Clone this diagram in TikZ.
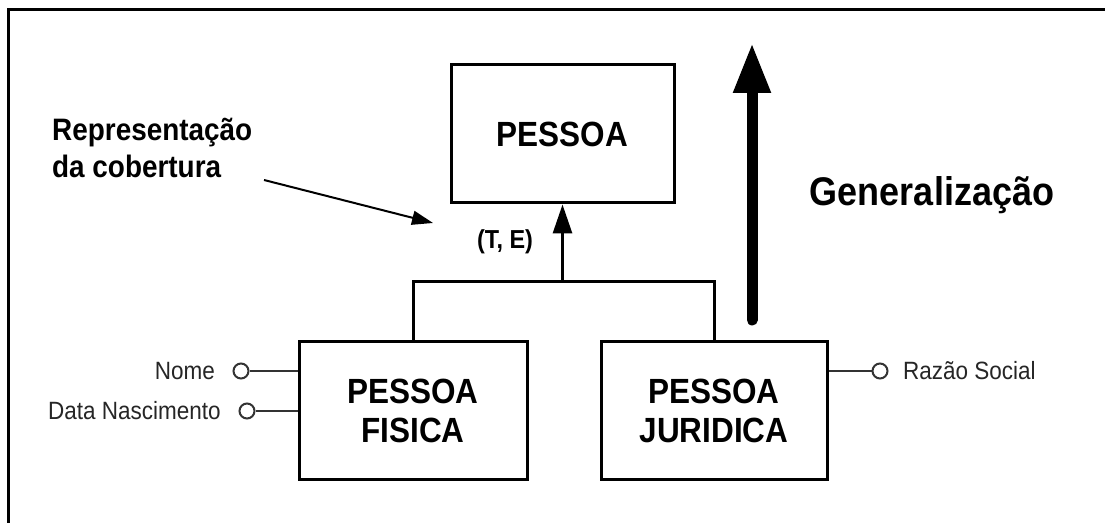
\documentclass[tikz,border=0pt]{standalone}
\usepackage{fontspec}
\setmainfont[FakeStretch=0.9]{Liberation Sans}
\usetikzlibrary{arrows.meta}
\begin{document}
\begin{tikzpicture}[x=1bp,y=-1bp,
  entity/.style={draw, line width=3bp, fill=white, align=center, inner sep=0,
    font=\fontsize{35bp}{39bp}\selectfont\bfseries},
  conn/.style={line width=3bp},
  uparrow/.style={line width=3bp, -{Triangle[length=29bp,width=19bp]}},
  attrcircle/.style={circle, draw=black!80, line width=2bp, fill=white,
    minimum size=15bp, inner sep=0},
  attrline/.style={line width=2.5bp, draw=black!80},
  attrtext/.style={inner sep=0, text=black!85, font=\fontsize{25bp}{27bp}\selectfont},
  note/.style={inner sep=0, font=\fontsize{31bp}{37bp}\selectfont\bfseries, align=left},
  pointer/.style={line width=2bp, -{Triangle[length=21bp,width=14bp]}}
]
\useasboundingbox (0,0) rectangle (1105,523);
\fill[white] (0,0) rectangle (1105,523);

% frame
\draw[line width=3bp] (8,523) -- (8,10) -- (1105,10);

% entities
\node[entity, minimum width=223bp, minimum height=138bp] (pessoa) at (562.5,134) {PESSOA};
\node[entity, minimum width=228bp, minimum height=137bp] (fisica) at (413,410.5) {PESSOA\\FISICA};
\node[entity, minimum width=226bp, minimum height=137bp] (juridica) at (714,410.5) {PESSOA\\JURIDICA};

% specialisation link
\coordinate (bar) at (562.5,282);
\draw[conn] (fisica.north) |- (bar) -| (juridica.north);
\draw[uparrow] (bar) -- (pessoa.south);
\node[inner sep=0, font=\fontsize{26bp}{28bp}\selectfont\bfseries] (te) at (505,242) {(T, E)};

% attributes of PESSOA FISICA
\node[attrcircle] (c1) at (241,371) {};
\node[attrtext, anchor=east] (nome) at (215,371) {Nome};
\draw[attrline] (c1) -- (fisica.west |- c1);
\node[attrcircle] (c2) at (247,411) {};
\node[attrtext, anchor=east] (nasc) at (221,411) {Data Nascimento};
\draw[attrline] (c2) -- (fisica.west |- c2);

% attribute of PESSOA JURIDICA
\node[attrcircle] (c3) at (880,371) {};
\node[attrtext, anchor=west] (razao) at (903,371) {Razão Social};
\draw[attrline] (juridica.east |- c3) -- (c3);

% coverage note
\node[note, anchor=west] (rep) at (52,148) {Representação\\da cobertura};
\coordinate (reptail) at (264,180);
\coordinate (reptip) at (433,223);
\draw[pointer] (reptail) -- (reptip);

% generalisation arrow
\coordinate (gbot) at (752,320);
\coordinate (gtop) at (752,43);
\draw[line width=11bp, line cap=round, -{Triangle[length=50bp,width=35bp]}] (gbot) -- (gtop);
\node[inner sep=0, font=\fontsize{40bp}{42bp}\selectfont\bfseries] (gen) at (932,195) {Generalização};
\end{tikzpicture}
\end{document}
